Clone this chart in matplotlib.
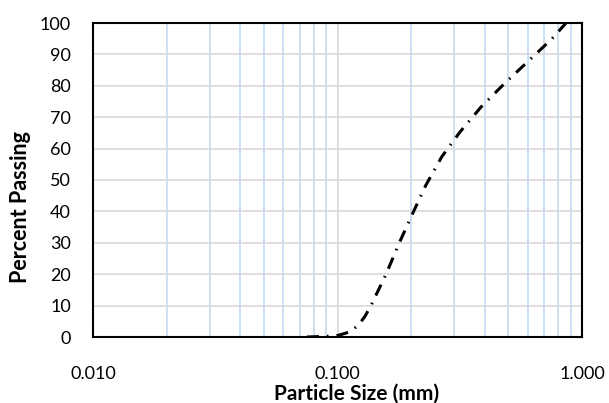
import matplotlib.pyplot as plt
from matplotlib.ticker import FixedLocator, FuncFormatter, NullFormatter

plt.rcParams['font.family'] = ['Lato', 'DejaVu Sans']

# Sieve analysis
particle_size = [0.075, 0.09, 0.1005, 0.112, 0.122, 0.13, 0.138, 0.158, 0.178,
                 0.202, 0.230, 0.267, 0.317, 0.386, 0.480, 0.600, 0.752, 0.86]
percent_passing = [0, 0.2, 0.5, 1.6, 3.8, 6.8, 10.5, 20, 29.6,
                   39, 48.4, 57.4, 65.3, 73.2, 80.6, 87.7, 94.9, 100]

x_major = [0.01, 0.1, 1.0]
x_minor = [k * 10.0 ** e for e in (-2, -1) for k in range(2, 10)]
y_ticks = list(range(0, 101, 10))

W, H = 609, 403
PX = 72 / 100  # points per pixel at dpi 100
fig = plt.figure(figsize=(W / 100, H / 100), dpi=100)
ax = fig.add_axes([93 / W, (H - 337) / H, (582 - 93) / W, (337 - 23) / H])

lw = 2.2
# dash 12px, gap 8px, dot 1.5px, gap 8px
pattern = [v * PX / lw for v in (12, 8, 1.6, 8)]
ax.plot(particle_size, percent_passing, color='black', lw=lw,
        dashes=pattern, dash_capstyle='butt', zorder=3)

ax.set_xscale('log')
ax.set_xlim(0.01, 1.0)
ax.set_ylim(0, 100)

ax.xaxis.set_major_locator(FixedLocator(x_major))
ax.xaxis.set_minor_locator(FixedLocator(x_minor))
ax.xaxis.set_major_formatter(FuncFormatter(lambda v, p: f'{v:.3f}'))
ax.xaxis.set_minor_formatter(NullFormatter())
ax.set_yticks(y_ticks)

ax.grid(True, which='major', axis='both', color='#d9d9d9', lw=1.2, zorder=0)
ax.grid(True, which='minor', axis='x', color='#c6d9f0', lw=1.2, zorder=0)
ax.set_axisbelow(True)

ax.tick_params(axis='both', which='both', length=0, labelsize=13, colors='black')
ax.tick_params(axis='x', pad=21)
ax.tick_params(axis='y', pad=16)

for sp in ax.spines.values():
    sp.set_color('black')
    sp.set_linewidth(1.5)

ax.set_xlabel('Particle Size (mm)', fontsize=15, fontweight='bold')
ax.set_ylabel('Percent Passing', fontsize=15.5, fontweight='bold')
ax.xaxis.set_label_coords((357 - 93) / (582 - 93), -(393.5 - 337) / (337 - 23))
ax.yaxis.set_label_coords(-(93 - 21) / (582 - 93), (337 - 207.5) / (337 - 23))
ax.xaxis.label.set_va('center')
ax.yaxis.label.set_va('center')

fig.savefig('out.png', dpi=100)
